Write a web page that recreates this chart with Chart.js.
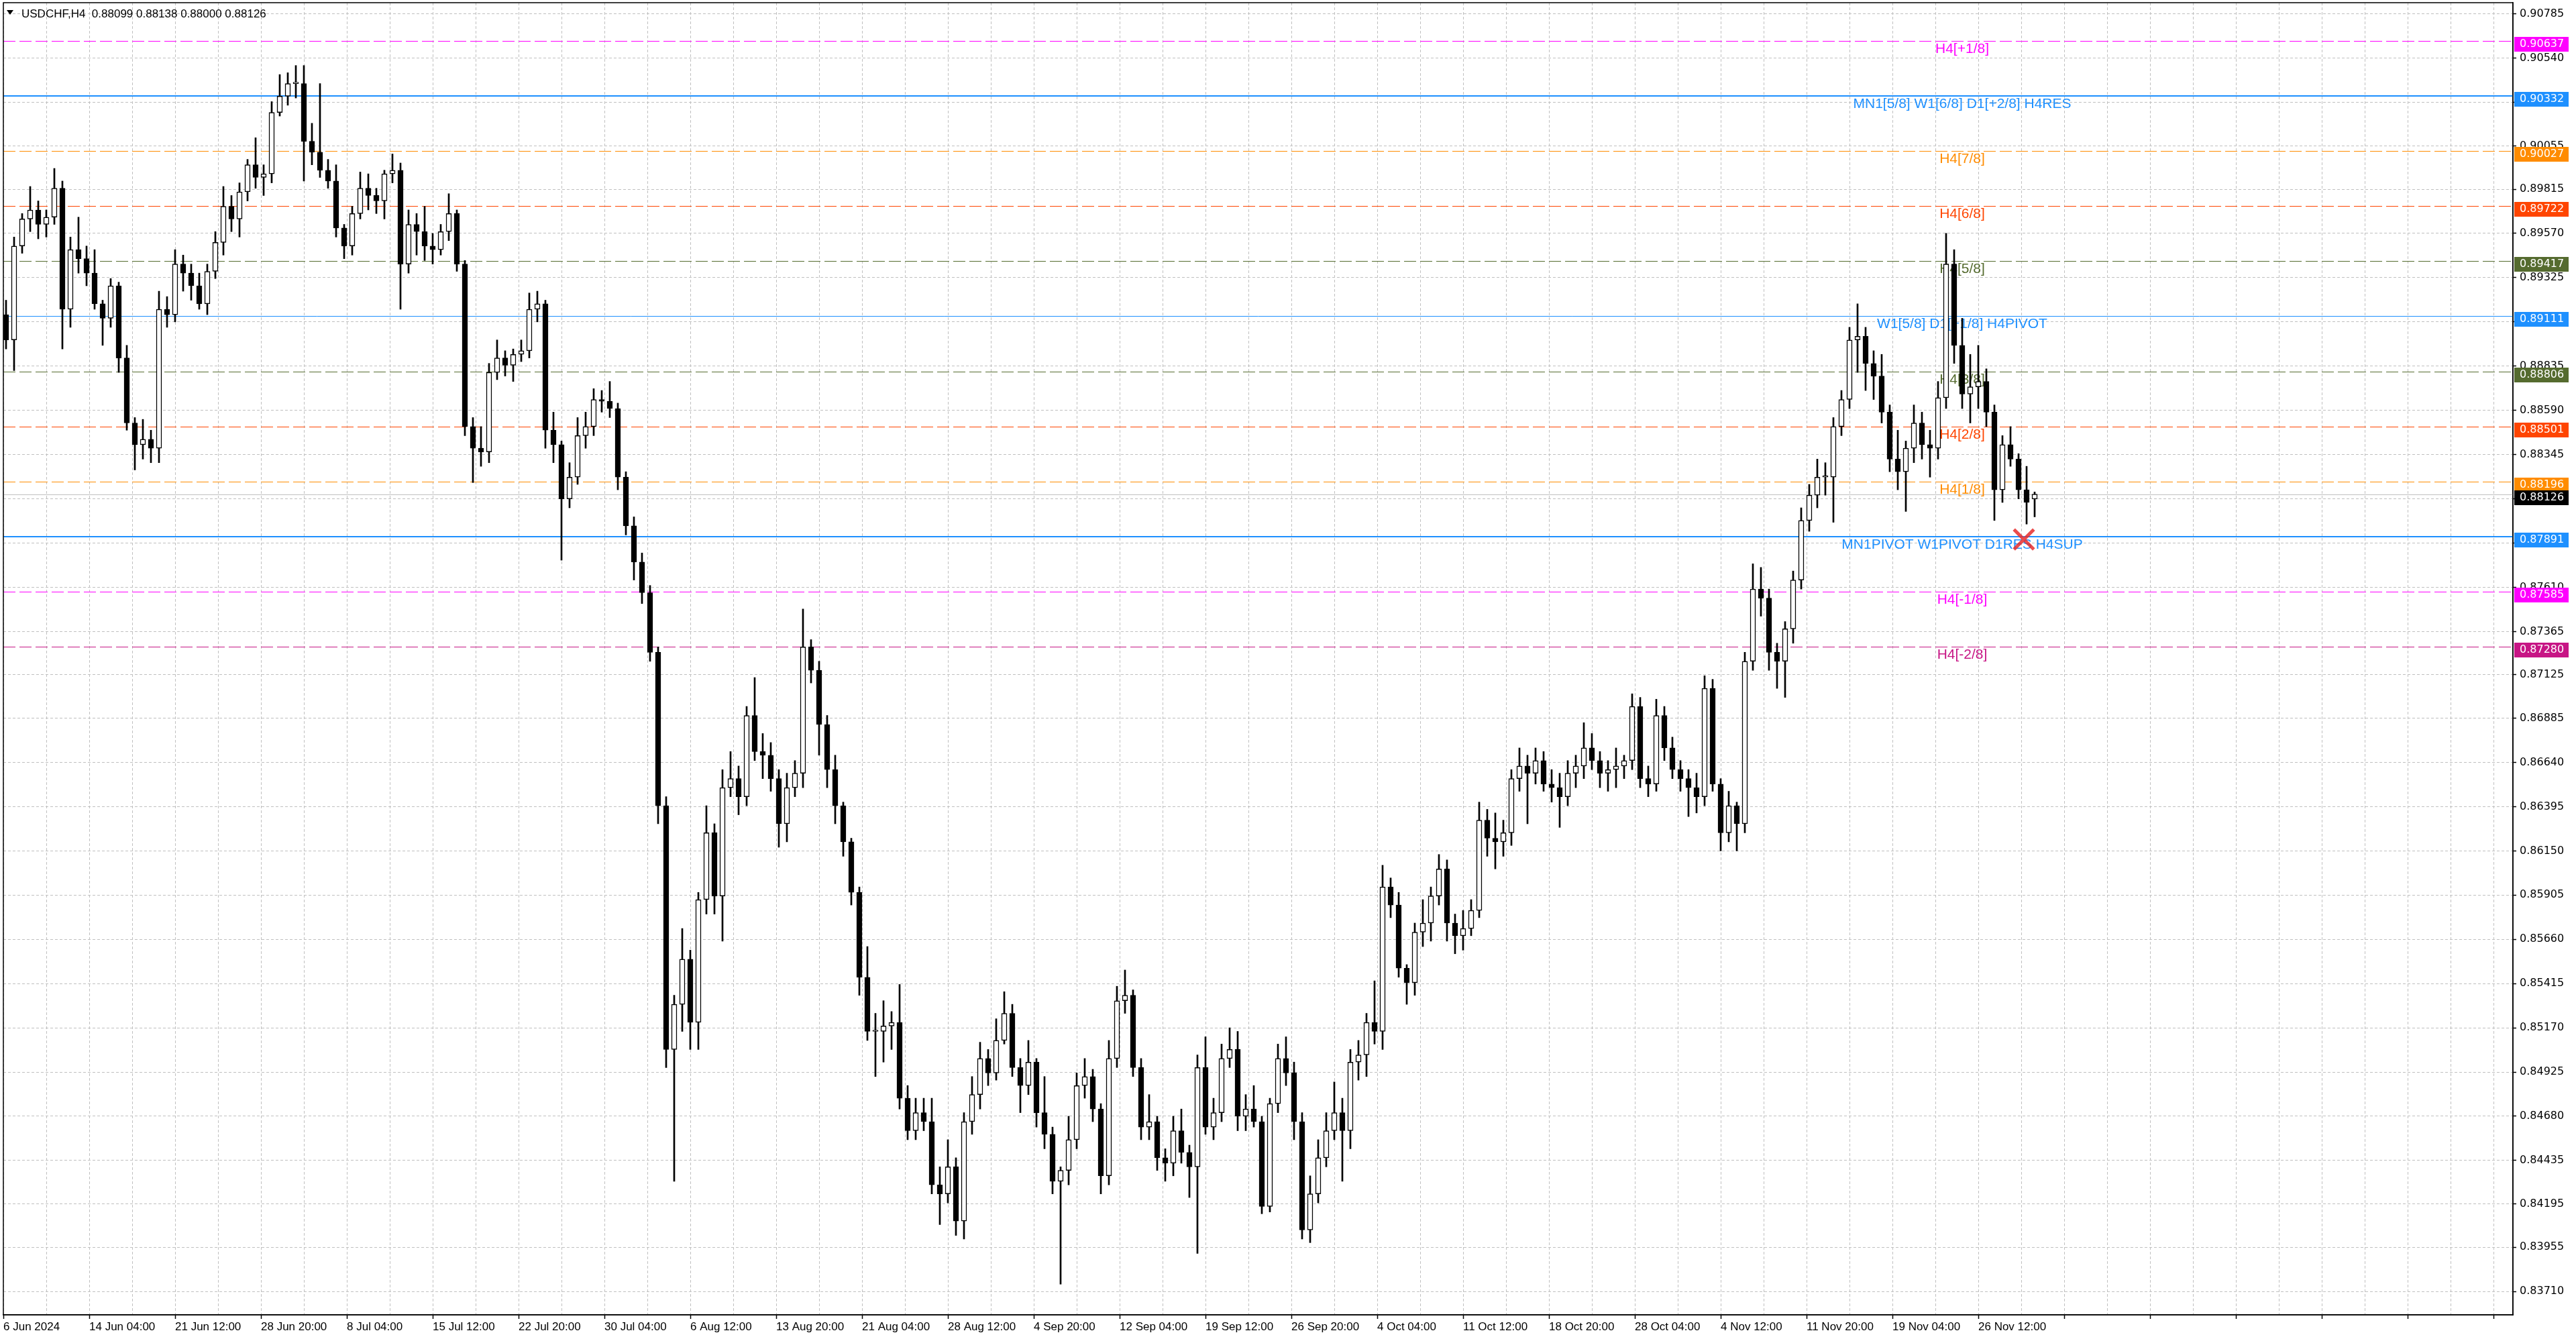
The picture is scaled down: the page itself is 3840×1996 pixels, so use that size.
<!DOCTYPE html>
<html lang="en">
<head>
    <meta charset="UTF-8">
    <title>USDCHF,H4</title>
    <script src="https://cdn.jsdelivr.net/npm/chart.js"></script>
    <style>
        html, body { margin: 0; padding: 0; background: #fff; }
        #wrap { width: 3840px; height: 1996px; }
    </style>
</head>
<body>
<div id="wrap"><canvas id="priceChart"></canvas></div>
<script>
const openP = [
    0.8912,0.8898,0.8950,0.8965,0.8970,0.8962,0.8966,0.8982,0.8915,0.8948,
    0.8943,0.8935,0.8918,0.8910,0.8928,0.8888,0.8852,0.8840,0.8843,0.8838,
    0.8915,0.8912,0.8940,0.8935,0.8928,0.8918,0.8936,0.8952,0.8972,0.8965,
    0.8980,0.8995,0.8988,0.8990,0.9024,0.9033,0.9040,0.9040,0.9008,0.9002,
    0.8992,0.8986,0.8960,0.8950,0.8968,0.8982,0.8978,0.8975,0.8990,0.8992,
    0.8940,0.8962,0.8958,0.8950,0.8948,0.8958,0.8968,0.8940,0.8850,0.8838,
    0.8836,0.8880,0.8888,0.8884,0.8890,0.8892,0.8915,0.8918,0.8848,0.8840,
    0.8810,0.8822,0.8845,0.8850,0.8865,0.8864,0.8860,0.8822,0.8795,0.8775,
    0.8758,0.8725,0.8640,0.8505,0.8530,0.8555,0.8520,0.8588,0.8625,0.8590,
    0.8650,0.8655,0.8645,0.8690,0.8670,0.8668,0.8655,0.8630,0.8650,0.8658,
    0.8728,0.8715,0.8685,0.8660,0.8640,0.8620,0.8592,0.8545,0.8515,0.8515,
    0.8518,0.8520,0.8478,0.8460,0.8470,0.8465,0.8430,0.8425,0.8440,0.8410,
    0.8465,0.8480,0.8500,0.8492,0.8510,0.8525,0.8495,0.8485,0.8498,0.8470,
    0.8458,0.8432,0.8438,0.8455,0.8485,0.8490,0.8472,0.8435,0.8500,0.8532,
    0.8535,0.8495,0.8462,0.8465,0.8445,0.8442,0.8460,0.8448,0.8440,0.8495,
    0.8462,0.8470,0.8500,0.8505,0.8468,0.8472,0.8465,0.8418,0.8475,0.8500,
    0.8492,0.8465,0.8405,0.8425,0.8445,0.8460,0.8470,0.8460,0.8498,0.8502,
    0.8520,0.8515,0.8595,0.8585,0.8550,0.8542,0.8570,0.8575,0.8590,0.8605,
    0.8575,0.8568,0.8572,0.8582,0.8632,0.8622,0.8620,0.8625,0.8655,0.8662,
    0.8658,0.8665,0.8652,0.8650,0.8645,0.8658,0.8662,0.8672,0.8665,0.8658,
    0.8660,0.8662,0.8665,0.8695,0.8655,0.8652,0.8690,0.8672,0.8660,0.8655,
    0.8650,0.8645,0.8705,0.8652,0.8625,0.8640,0.8630,0.8720,0.8760,0.8755,
    0.8725,0.8720,0.8738,0.8765,0.8798,0.8812,0.8822,0.8822,0.8850,0.8865,
    0.8898,0.8900,0.8885,0.8878,0.8858,0.8832,0.8825,0.8838,0.8852,0.8840,
    0.8838,0.8866,0.8940,0.8895,0.8868,0.8872,0.8875,0.8858,0.8815,0.8840,
    0.8832,0.8815,0.88099
];
const highP = [
    0.8920,0.8955,0.8968,0.8983,0.8975,0.8970,0.8993,0.8986,0.8955,0.8966,
    0.8950,0.8948,0.8920,0.8932,0.8930,0.8895,0.8855,0.8854,0.8848,0.8925,
    0.8922,0.8948,0.8945,0.8940,0.8935,0.8940,0.8958,0.8983,0.8978,0.8985,
    0.8998,0.9010,0.8995,0.9030,0.9045,0.9046,0.9050,0.9050,0.9018,0.9040,
    0.8998,0.8995,0.8962,0.8972,0.8991,0.8990,0.8982,0.8992,0.9001,0.8996,
    0.8970,0.8968,0.8972,0.8957,0.8962,0.8979,0.8970,0.8942,0.8855,0.8850,
    0.8885,0.8898,0.8892,0.8893,0.8898,0.8924,0.8925,0.8920,0.8858,0.8842,
    0.8830,0.8855,0.8858,0.8871,0.8870,0.8875,0.8863,0.8825,0.8800,0.8780,
    0.8762,0.8728,0.8645,0.8535,0.8572,0.8560,0.8592,0.8640,0.8630,0.8660,
    0.8670,0.8662,0.8695,0.8711,0.8680,0.8675,0.8660,0.8658,0.8665,0.8749,
    0.8732,0.8720,0.8690,0.8668,0.8642,0.8622,0.8595,0.8562,0.8525,0.8532,
    0.8526,0.8541,0.8485,0.8478,0.8478,0.8478,0.8440,0.8455,0.8445,0.8470,
    0.8490,0.8509,0.8505,0.8522,0.8537,0.8530,0.8500,0.8510,0.8500,0.8490,
    0.8462,0.8440,0.8468,0.8492,0.8500,0.8494,0.8475,0.8510,0.8540,0.8549,
    0.8538,0.8500,0.8480,0.8468,0.8450,0.8468,0.8472,0.8452,0.8502,0.8512,
    0.8478,0.8508,0.8517,0.8515,0.8480,0.8485,0.8468,0.8478,0.8508,0.8512,
    0.8498,0.8470,0.8435,0.8455,0.8470,0.8487,0.8478,0.8505,0.8510,0.8525,
    0.8543,0.8607,0.8600,0.8592,0.8552,0.8575,0.8588,0.8595,0.8613,0.8610,
    0.8580,0.8582,0.8588,0.8642,0.8638,0.8636,0.8632,0.8660,0.8672,0.8668,
    0.8672,0.8670,0.8660,0.8658,0.8665,0.8668,0.8686,0.8680,0.8670,0.8665,
    0.8672,0.8668,0.8702,0.8700,0.8662,0.8699,0.8695,0.8678,0.8665,0.8660,
    0.8658,0.8712,0.8710,0.8655,0.8648,0.8642,0.8725,0.8774,0.8772,0.8760,
    0.8730,0.8742,0.8770,0.8805,0.8818,0.8832,0.8830,0.8855,0.8870,0.8905,
    0.8918,0.8905,0.8892,0.8890,0.8862,0.8848,0.8842,0.8862,0.8858,0.8848,
    0.8875,0.8957,0.8948,0.8910,0.8890,0.8895,0.8882,0.8862,0.8845,0.8850,
    0.8835,0.8828,0.88138
];
const lowP = [
    0.8893,0.8881,0.8946,0.8958,0.8954,0.8955,0.8962,0.8893,0.8905,0.8935,
    0.8928,0.8915,0.8895,0.8905,0.8880,0.8848,0.8826,0.8832,0.8830,0.8830,
    0.8905,0.8908,0.8925,0.8920,0.8915,0.8912,0.8932,0.8945,0.8958,0.8955,
    0.8975,0.8982,0.8978,0.8985,0.9022,0.9028,0.9032,0.8986,0.8995,0.8988,
    0.8982,0.8955,0.8943,0.8945,0.8965,0.8970,0.8968,0.8965,0.8985,0.8915,
    0.8935,0.8945,0.8942,0.8940,0.8945,0.8953,0.8936,0.8845,0.8819,0.8828,
    0.8830,0.8876,0.8878,0.8875,0.8886,0.8888,0.8908,0.8838,0.8830,0.8776,
    0.8805,0.8818,0.8838,0.8845,0.8858,0.8855,0.8815,0.8790,0.8765,0.8752,
    0.8720,0.8630,0.8495,0.8432,0.8515,0.8505,0.8505,0.8580,0.8580,0.8565,
    0.8645,0.8635,0.8640,0.8665,0.8655,0.8648,0.8617,0.8620,0.8645,0.8650,
    0.8708,0.8668,0.8650,0.8630,0.8612,0.8585,0.8535,0.8510,0.8490,0.8498,
    0.8505,0.8472,0.8455,0.8455,0.8460,0.8425,0.8408,0.8420,0.8402,0.8400,
    0.8458,0.8472,0.8485,0.8488,0.8508,0.8490,0.8470,0.8480,0.8462,0.8450,
    0.8425,0.8375,0.8430,0.8450,0.8478,0.8465,0.8425,0.8430,0.8495,0.8525,
    0.8490,0.8455,0.8455,0.8438,0.8432,0.8435,0.8442,0.8423,0.8392,0.8458,
    0.8455,0.8465,0.8495,0.8460,0.8460,0.8462,0.8414,0.8415,0.8470,0.8485,
    0.8455,0.8400,0.8398,0.8420,0.8440,0.8455,0.8432,0.8450,0.8488,0.8490,
    0.8508,0.8505,0.8578,0.8545,0.8530,0.8535,0.8562,0.8565,0.8585,0.8565,
    0.8558,0.8560,0.8568,0.8578,0.8612,0.8605,0.8612,0.8618,0.8648,0.8630,
    0.8652,0.8648,0.8642,0.8628,0.8640,0.8650,0.8655,0.8660,0.8650,0.8648,
    0.8650,0.8655,0.8660,0.8650,0.8645,0.8648,0.8665,0.8655,0.8648,0.8634,
    0.8636,0.8640,0.8648,0.8615,0.8620,0.8615,0.8625,0.8715,0.8745,0.8715,
    0.8705,0.8700,0.8730,0.8760,0.8792,0.8805,0.8812,0.8797,0.8845,0.8860,
    0.8880,0.8870,0.8865,0.8852,0.8825,0.8815,0.8803,0.8830,0.8832,0.8822,
    0.8832,0.8860,0.8885,0.8860,0.8852,0.8860,0.8850,0.8798,0.8808,0.8828,
    0.8810,0.8796,0.88000
];
const closeP = [
    0.8898,0.8950,0.8965,0.8970,0.8962,0.8966,0.8982,0.8915,0.8948,0.8943,
    0.8935,0.8918,0.8910,0.8928,0.8888,0.8852,0.8840,0.8843,0.8838,0.8915,
    0.8912,0.8940,0.8935,0.8928,0.8918,0.8936,0.8952,0.8972,0.8965,0.8980,
    0.8995,0.8988,0.8990,0.9024,0.9033,0.9040,0.9040,0.9008,0.9002,0.8992,
    0.8986,0.8960,0.8950,0.8968,0.8982,0.8978,0.8975,0.8990,0.8992,0.8940,
    0.8962,0.8958,0.8950,0.8948,0.8958,0.8968,0.8940,0.8850,0.8838,0.8836,
    0.8880,0.8888,0.8884,0.8890,0.8892,0.8915,0.8918,0.8848,0.8840,0.8810,
    0.8822,0.8845,0.8850,0.8865,0.8864,0.8860,0.8822,0.8795,0.8775,0.8758,
    0.8725,0.8640,0.8505,0.8530,0.8555,0.8520,0.8588,0.8625,0.8590,0.8650,
    0.8655,0.8645,0.8690,0.8670,0.8668,0.8655,0.8630,0.8650,0.8658,0.8728,
    0.8715,0.8685,0.8660,0.8640,0.8620,0.8592,0.8545,0.8515,0.8515,0.8518,
    0.8520,0.8478,0.8460,0.8470,0.8465,0.8430,0.8425,0.8440,0.8410,0.8465,
    0.8480,0.8500,0.8492,0.8510,0.8525,0.8495,0.8485,0.8498,0.8470,0.8458,
    0.8432,0.8438,0.8455,0.8485,0.8490,0.8472,0.8435,0.8500,0.8532,0.8535,
    0.8495,0.8462,0.8465,0.8445,0.8442,0.8460,0.8448,0.8440,0.8495,0.8462,
    0.8470,0.8500,0.8505,0.8468,0.8472,0.8465,0.8418,0.8475,0.8500,0.8492,
    0.8465,0.8405,0.8425,0.8445,0.8460,0.8470,0.8460,0.8498,0.8502,0.8520,
    0.8515,0.8595,0.8585,0.8550,0.8542,0.8570,0.8575,0.8590,0.8605,0.8575,
    0.8568,0.8572,0.8582,0.8632,0.8622,0.8620,0.8625,0.8655,0.8662,0.8658,
    0.8665,0.8652,0.8650,0.8645,0.8658,0.8662,0.8672,0.8665,0.8658,0.8660,
    0.8662,0.8665,0.8695,0.8655,0.8652,0.8690,0.8672,0.8660,0.8655,0.8650,
    0.8645,0.8705,0.8652,0.8625,0.8640,0.8630,0.8720,0.8760,0.8755,0.8725,
    0.8720,0.8738,0.8765,0.8798,0.8812,0.8822,0.8822,0.8850,0.8865,0.8898,
    0.8900,0.8885,0.8878,0.8858,0.8832,0.8825,0.8838,0.8852,0.8840,0.8838,
    0.8866,0.8940,0.8895,0.8868,0.8872,0.8875,0.8858,0.8815,0.8840,0.8832,
    0.8815,0.8808,0.88126
];

// time axis labels (one every 32 H4 bars)
const dateLabels = [
    '6 Jun 2024', '14 Jun 04:00', '21 Jun 12:00', '28 Jun 20:00', '8 Jul 04:00', '15 Jul 12:00',
    '22 Jul 20:00', '30 Jul 04:00', '6 Aug 12:00', '13 Aug 20:00', '21 Aug 04:00', '28 Aug 12:00',
    '4 Sep 20:00', '12 Sep 04:00', '19 Sep 12:00', '26 Sep 20:00', '4 Oct 04:00', '11 Oct 12:00',
    '18 Oct 20:00', '28 Oct 04:00', '4 Nov 12:00', '11 Nov 20:00', '19 Nov 04:00', '26 Nov 12:00'
];

// price axis ticks
const priceTicks = [
    0.90785, 0.90540, 0.90295, 0.90055, 0.89815, 0.89570, 0.89325, 0.89080, 0.88835, 0.88590,
    0.88345, 0.88100, 0.87855, 0.87610, 0.87365, 0.87125, 0.86885, 0.86640, 0.86395, 0.86150,
    0.85905, 0.85660, 0.85415, 0.85170, 0.84925, 0.84680, 0.84435, 0.84195, 0.83955, 0.83710
];

// murrey / pivot levels
const levelValues = [0.90637, 0.90332, 0.90027, 0.89722, 0.89417, 0.89111, 0.88806, 0.88501, 0.88196, 0.87891, 0.87585, 0.87280];
const levelNames = [
    'H4[+1/8]', 'MN1[5/8] W1[6/8] D1[+2/8] H4RES', 'H4[7/8]', 'H4[6/8]', 'H4[5/8]',
    'W1[5/8] D1[+1/8] H4PIVOT', 'H4[3/8]', 'H4[2/8]', 'H4[1/8]',
    'MN1PIVOT W1PIVOT D1RES H4SUP', 'H4[-1/8]', 'H4[-2/8]'
];
const levelColors = ['#FF00FF', '#1E90FF', '#FF8C00', '#FF4500', '#556B2F', '#1E90FF', '#556B2F', '#FF4500', '#FF8C00', '#1E90FF', '#FF00FF', '#C71585'];
const levelSolid = [false, true, false, false, false, true, false, false, false, true, false, false];
const levelWidth = [1, 2, 1, 1, 1, 1, 1, 1, 1, 2, 1, 1];

// red cross marker
const markBar = [753];
const markPrice = [0.87875];

const BARS_PER_CANDLE = 3;
const LABEL_BAR = 730;      // where the level captions are centred
const X_MAX = 935.25;       // visible bar slots incl. chart shift
const Y_MIN = 0.83580, Y_MAX = 0.90848;

const lastIdx = closeP.length - 1;
const lastPrice = closeP[lastIdx];

const candleX = openP.map((_, k) => k * BARS_PER_CANDLE + 1);
const wickData = candleX.map((x, k) => ({ x: x, y: [lowP[k], highP[k]] }));
const bodyData = candleX.map((x, k) => ({ x: x, y: [openP[k], closeP[k]] }));
const bodyFill = openP.map((o, k) => closeP[k] >= o ? '#ffffff' : '#000000');

// snap a horizontal line to the pixel grid so thin dashes stay crisp
const snap = (p, w) => (w % 2 === 1) ? Math.round(p) + 0.5 : Math.round(p);

const overlay = {
    id: 'mtOverlay',
    beforeDatasetsDraw(chart) {
        const { ctx, chartArea: a, scales: { x, y } } = chart;
        ctx.save();
        ctx.beginPath();
        ctx.rect(a.left, a.top, a.right - a.left, a.bottom - a.top);
        ctx.clip();
        // bid line
        const by = snap(y.getPixelForValue(lastPrice), 1);
        ctx.strokeStyle = '#c0c0c0';
        ctx.lineWidth = 1;
        ctx.beginPath(); ctx.moveTo(a.left, by); ctx.lineTo(a.right, by); ctx.stroke();
        const lx = x.getPixelForValue(LABEL_BAR);
        ctx.font = '21px "Liberation Sans"';
        ctx.textAlign = 'center';
        ctx.textBaseline = 'middle';
        levelValues.forEach((v, i) => {
            const py = snap(y.getPixelForValue(v), levelWidth[i]);
            ctx.strokeStyle = levelColors[i];
            ctx.lineWidth = levelWidth[i];
            ctx.setLineDash(levelSolid[i] ? [] : [18, 6]);
            ctx.beginPath(); ctx.moveTo(a.left, py); ctx.lineTo(a.right, py); ctx.stroke();
            ctx.fillStyle = levelColors[i];
            ctx.fillText(levelNames[i], lx, py + 12);
        });
        ctx.restore();
    },
    afterDraw(chart) {
        const { ctx, chartArea: a, scales: { y } } = chart;
        ctx.save();
        // price boxes on the right axis
        ctx.font = '16px "DejaVu Sans"';
        ctx.textAlign = 'left';
        ctx.textBaseline = 'middle';
        const boxes = levelValues.map((v, i) => ({ v: v, c: levelColors[i] }));
        boxes.push({ v: lastPrice, c: '#000000' });
        boxes.forEach(b => {
            const py = Math.round(y.getPixelForValue(b.v));
            ctx.fillStyle = b.c;
            ctx.fillRect(a.right + 2, py - 6, 81, 22);
            ctx.fillStyle = '#ffffff';
            ctx.fillText(b.v.toFixed(5), a.right + 10, py + 5);
        });
        // frame
        ctx.strokeStyle = '#000';
        ctx.lineWidth = 1.5;
        ctx.strokeRect(a.left, a.top, a.right - a.left, a.bottom - a.top);
        // symbol caption
        ctx.fillStyle = '#000';
        ctx.beginPath();
        ctx.moveTo(a.left + 5, a.top + 11); ctx.lineTo(a.left + 15, a.top + 11); ctx.lineTo(a.left + 10, a.top + 18);
        ctx.closePath(); ctx.fill();
        ctx.font = '17px "Liberation Sans"';
        ctx.textBaseline = 'alphabetic';
        const ohlc = [openP[lastIdx], highP[lastIdx], lowP[lastIdx], closeP[lastIdx]].map(v => v.toFixed(5)).join(' ');
        ctx.fillText('USDCHF,H4  ' + ohlc, a.left + 27, a.top + 22);
        ctx.restore();
    }
};

new Chart(document.getElementById('priceChart'), {
    type: 'bar',
    data: {
        datasets: [
            {
                type: 'scatter',
                data: markBar.map((b, i) => ({ x: b, y: markPrice[i] })),
                pointStyle: 'crossRot',
                pointRadius: 21,
                borderColor: 'rgba(232, 45, 45, 0.85)',
                borderWidth: 5,
                order: 0
            },
            {
                label: 'body',
                data: bodyData,
                backgroundColor: bodyFill,
                borderColor: '#000',
                borderWidth: 1.5,
                borderSkipped: false,
                barThickness: 8,
                minBarLength: 2,
                grouped: false,
                order: 1
            },
            {
                label: 'wick',
                data: wickData,
                backgroundColor: '#000',
                borderWidth: 0,
                barThickness: 2,
                grouped: false,
                order: 2
            }
        ]
    },
    options: {
        responsive: true,
        maintainAspectRatio: false,
        devicePixelRatio: 1,
        animation: false,
        layout: { autoPadding: false, padding: { left: 5, top: 4, right: 0, bottom: 0 } },
        plugins: { legend: { display: false }, tooltip: { enabled: false } },
        scales: {
            x: {
                type: 'linear',
                min: 0,
                max: X_MAX,
                offset: false,
                afterBuildTicks: s => {
                    const t = [];
                    for (let b = 0; b <= X_MAX; b += 16) t.push({ value: b });
                    s.ticks = t;
                },
                afterFit: s => { s.height = 36; s.paddingLeft = 0; s.paddingRight = 0; },
                ticks: {
                    autoSkip: false,
                    maxRotation: 0,
                    align: 'start',
                    padding: 2,
                    color: '#000',
                    font: { family: 'Liberation Sans', size: 17 },
                    callback: v => (v % 32 === 0 && dateLabels[v / 32]) ? dateLabels[v / 32] : ''
                },
                grid: {
                    offset: false,
                    color: '#c0c0c0',
                    lineWidth: 1,
                    tickLength: 6,
                    tickWidth: 1.5,
                    tickColor: c => (c.tick && c.tick.value % 32 === 0) ? '#000' : 'rgba(0,0,0,0)'
                },
                border: { color: '#000', width: 1.5, dash: [4, 3] }
            },
            y: {
                position: 'right',
                min: Y_MIN,
                max: Y_MAX,
                afterBuildTicks: s => { s.ticks = priceTicks.map(v => ({ value: v })); },
                afterFit: s => { s.width = 94; s.paddingTop = 0; s.paddingBottom = 0; },
                ticks: {
                    color: '#000',
                    padding: 5,
                    font: { family: 'DejaVu Sans', size: 16 },
                    callback: v => Number(v).toFixed(5)
                },
                grid: { color: '#c0c0c0', lineWidth: 1, tickLength: 5, tickColor: '#000', tickWidth: 1.5 },
                border: { color: '#000', width: 1.5, dash: [4, 3] }
            }
        }
    },
    plugins: [overlay]
});
</script>
</body>
</html>
